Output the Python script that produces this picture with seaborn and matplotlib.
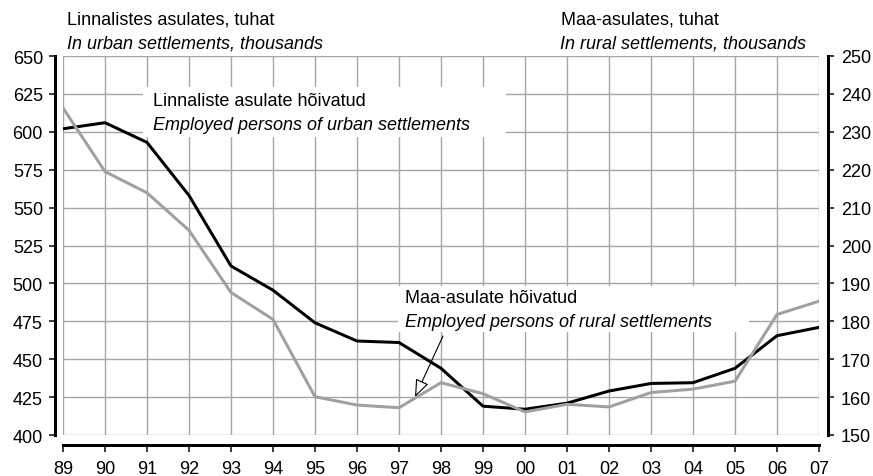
import numpy as np
import pandas as pd
import matplotlib
matplotlib.use("Agg")
import matplotlib.pyplot as plt
from matplotlib.patches import Rectangle
import seaborn as sns

# ---- data ----
years = ["89", "90", "91", "92", "93", "94", "95", "96", "97", "98",
         "99", "00", "01", "02", "03", "04", "05", "06", "07"]
urban = [602, 606, 593, 558, 511.5, 495.5, 474, 462, 461, 444,
         419, 417, 421, 429, 434, 434.5, 444, 465.5, 471]
rural = [236.3, 219.5, 213.9, 204.0, 187.6, 180.5, 160.1, 157.9, 157.2, 163.8,
         160.9, 156.1, 158.1, 157.4, 161.2, 162.1, 164.2, 181.8, 185.3]
left_ticks = [400, 425, 450, 475, 500, 525, 550, 575, 600, 625, 650]
right_ticks = [150, 160, 170, 180, 190, 200, 210, 220, 230, 240, 250]

df = pd.DataFrame({"pos": np.arange(len(years)), "urban": urban, "rural": rural})

sns.set_theme(style="white")
plt.rcParams["font.family"] = ["Liberation Sans", "DejaVu Sans"]
plt.rcParams["text.color"] = "black"
FS = 13
PT = 72 / 100  # points per pixel at dpi 100

fig = plt.figure(figsize=(8.73, 4.77), dpi=100)
ax = fig.add_axes([63 / 873, 1 - 436 / 477, (819 - 63) / 873, (436 - 57) / 477])
ax2 = ax.twinx()

GRID = "#a6a6a6"
SER_GRAY = "#a0a0a0"

sns.lineplot(data=df, x="pos", y="urban", ax=ax, color="black", lw=3 * PT, zorder=3)
sns.lineplot(data=df, x="pos", y="rural", ax=ax2, color=SER_GRAY, lw=3 * PT, zorder=3)

ax.set_xlim(0, len(years) - 1)
ax.set_ylim(400, 650)
ax2.set_ylim(150, 250)
ax.set_xticks(df["pos"])
ax.set_xticklabels(years)
ax.set_yticks(left_ticks)
ax2.set_yticks(right_ticks)
ax.set_xlabel("")
ax.set_ylabel("")
ax2.set_ylabel("")

ax.grid(True, color=GRID, lw=1.0)
ax.set_axisbelow(True)
ax2.grid(False)

for a in (ax, ax2):
    for s in a.spines.values():
        s.set_visible(False)
ax.spines["left"].set_visible(True)
ax.spines["left"].set_position(("outward", 8 * PT))
ax.spines["left"].set_linewidth(3 * PT)
ax.spines["left"].set_color("black")
ax.spines["bottom"].set_visible(True)
ax.spines["bottom"].set_position(("outward", 10 * PT))
ax.spines["bottom"].set_linewidth(3 * PT)
ax.spines["bottom"].set_color("black")
ax2.spines["right"].set_visible(True)
ax2.spines["right"].set_position(("outward", 9 * PT))
ax2.spines["right"].set_linewidth(3 * PT)
ax2.spines["right"].set_color("black")

ax.tick_params(axis="y", left=True, length=6 * PT, width=1.5 * PT, color="black",
               labelsize=FS, pad=6 * PT, labelcolor="black")
ax.tick_params(axis="x", bottom=True, length=7 * PT, width=1.5 * PT, color="black",
               labelsize=FS, pad=8 * PT, labelcolor="black")
ax2.tick_params(axis="y", right=True, length=6 * PT, width=1.5 * PT, color="black",
                labelsize=FS, pad=7 * PT, labelcolor="black")

# white label boxes (behind lines, above grid)
def px_box(x0, y0, x1, y1):
    axl, axr, axt, axb = 63, 819, 57, 436
    fx0 = (x0 - axl) / (axr - axl)
    fx1 = (x1 - axl) / (axr - axl)
    fy0 = (axb - y1) / (axb - axt)
    fy1 = (axb - y0) / (axb - axt)
    return fx0, fy0, fx1 - fx0, fy1 - fy0

for (x0, y0, x1, y1) in [(143, 88, 506, 138), (398, 287, 749, 333)]:
    bx, by, bw, bh = px_box(x0, y0, x1, y1)
    ax.add_patch(Rectangle((bx, by), bw, bh, transform=ax.transAxes,
                           facecolor="white", edgecolor="none", zorder=1.5,
                           clip_on=False))

def fxy(px, py):
    return ((px - 63) / (819 - 63), (436 - py) / (436 - 57))

tx, ty = fxy(153, 102)
ax2.text(tx, ty, "Linnaliste asulate hõivatud", transform=ax.transAxes,
         fontsize=FS, va="center", ha="left", zorder=5)
tx, ty = fxy(153, 125)
ax2.text(tx, ty, "Employed persons of urban settlements", transform=ax.transAxes,
         fontsize=FS, va="center", ha="left", style="italic", zorder=5)
tx, ty = fxy(405, 299)
ax2.text(tx, ty, "Maa-asulate hõivatud", transform=ax.transAxes,
         fontsize=FS, va="center", ha="left", zorder=5)
tx, ty = fxy(405, 323)
ax2.text(tx, ty, "Employed persons of rural settlements", transform=ax.transAxes,
         fontsize=FS, va="center", ha="left", style="italic", zorder=5)

ax2.annotate("", xy=fxy(415, 398), xytext=fxy(443, 337),
             xycoords=ax.transAxes, textcoords=ax.transAxes,
             arrowprops=dict(arrowstyle="-|>,head_length=0.9,head_width=0.35",
                             facecolor="white", edgecolor="black", lw=0.8,
                             shrinkA=0, shrinkB=0),
             zorder=6)

# axis titles
fig.text(67 / 873, 1 - 20 / 477, "Linnalistes asulates, tuhat", fontsize=FS,
         ha="left", va="center")
fig.text(67 / 873, 1 - 44 / 477, "In urban settlements, thousands", fontsize=FS,
         ha="left", va="center", style="italic")
fig.text(561 / 873, 1 - 20 / 477, "Maa-asulates, tuhat", fontsize=FS,
         ha="left", va="center")
fig.text(806 / 873, 1 - 44 / 477, "In rural settlements, thousands", fontsize=FS,
         ha="right", va="center", style="italic")

fig.savefig("out.png", dpi=100)
